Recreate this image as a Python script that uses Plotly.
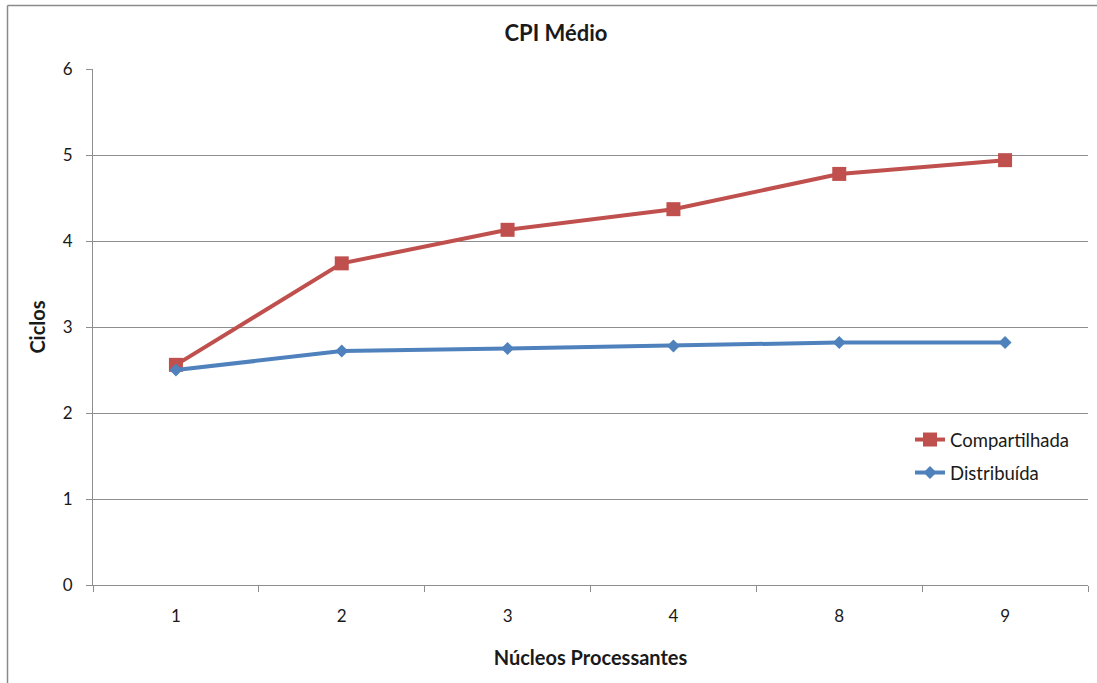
import plotly.graph_objects as go

# Number of processing cores (categorical axis)
nucleos = ["1", "2", "3", "4", "8", "9"]

# Average CPI (cycles) for each memory organisation
compartilhada = [2.56, 3.74, 4.13, 4.37, 4.78, 4.94]
distribuida = [2.50, 2.72, 2.75, 2.78, 2.82, 2.82]

y_ticks = [0, 1, 2, 3, 4, 5, 6]

RED = "#C0504D"
BLUE = "#4F81BD"
GRID = "#8E8E8E"
FONT = "Lato, 'Open Sans', sans-serif"
TXT = "#1a1a1a"

W, H = 1097, 683
ML, MR, MT, MB = 93, 9, 69, 98

fig = go.Figure()

fig.add_trace(go.Scatter(
    x=nucleos, y=compartilhada, name="Compartilhada",
    mode="lines+markers",
    line=dict(color=RED, width=4),
    marker=dict(symbol="square", size=14, color=RED, line=dict(width=0)),
    legend="legend", showlegend=True,
))
fig.add_trace(go.Scatter(
    x=nucleos, y=distribuida, name="Distribuída",
    mode="lines+markers",
    line=dict(color=BLUE, width=4),
    marker=dict(symbol="diamond", size=10, color=BLUE, line=dict(width=0)),
    legend="legend2", showlegend=True,
))

pw = W - ML - MR
ph = H - MT - MB


def px_x(x):
    return (x - ML) / pw


def px_y(y):
    return (H - MB - y) / ph


legend_common = dict(
    xanchor="left", yanchor="middle",
    bgcolor="rgba(0,0,0,0)",
    font=dict(family=FONT, size=18.5, color=TXT),
    itemwidth=30,
    visible=True,
)

fig.update_layout(
    width=W, height=H,
    margin=dict(l=ML, r=MR, t=MT, b=MB),
    paper_bgcolor="white", plot_bgcolor="white",
    font=dict(family=FONT, color=TXT),
    showlegend=True,
    title=dict(
        text="<b>CPI Médio</b>",
        x=556 / W, xanchor="center", xref="container",
        y=1 - 33 / H, yanchor="middle", yref="container",
        font=dict(family=FONT, size=22, color=TXT),
    ),
    xaxis=dict(
        type="category", categoryorder="array", categoryarray=nucleos,
        range=[-0.5, 5.5],
        showgrid=False, zeroline=False,
        showline=True, linecolor=GRID, linewidth=1,
        ticks="outside", tickson="boundaries", ticklen=6, tickcolor=GRID,
        tickfont=dict(family=FONT, size=17, color=TXT),
        ticklabelstandoff=16,
        title=dict(text="<b>Núcleos Processantes</b>", standoff=25,
                   font=dict(family=FONT, size=20, color=TXT)),
    ),
    yaxis=dict(
        range=[0, 6], tickvals=y_ticks,
        showgrid=True, gridcolor=GRID, gridwidth=1,
        zeroline=False,
        showline=True, linecolor=GRID, linewidth=1,
        ticks="outside", ticklen=6, tickcolor=GRID,
        tickfont=dict(family=FONT, size=17, color=TXT),
        ticklabelstandoff=10,
        title=dict(text="<b>Ciclos</b>", standoff=11,
                   font=dict(family=FONT, size=20, color=TXT)),
    ),
    legend=dict(x=px_x(910), y=px_y(440), **legend_common),
    legend2=dict(x=px_x(910), y=px_y(473), **legend_common),
    shapes=[
        # chart-area frame (left and top edges)
        dict(type="line", xref="paper", yref="paper",
             x0=px_x(7.5), x1=px_x(W + 5), y0=px_y(5.5), y1=px_y(5.5),
             line=dict(color="#8a8a8a", width=1.5)),
        dict(type="line", xref="paper", yref="paper",
             x0=px_x(7.5), x1=px_x(7.5), y0=px_y(5.5), y1=px_y(H + 5),
             line=dict(color="#8a8a8a", width=1.5)),
    ],
)

fig.write_html("out.html")
